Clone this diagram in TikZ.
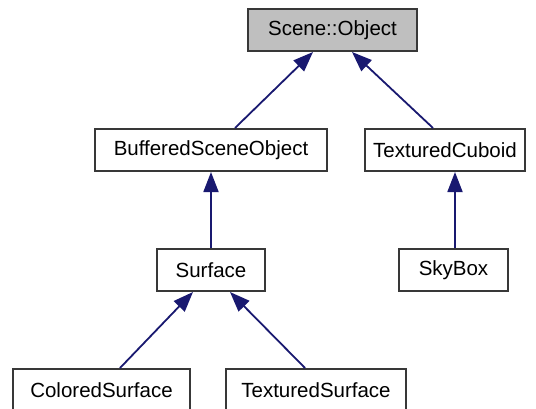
\documentclass[tikz,border=0pt]{standalone}
\usepackage{fontspec}
\setmainfont{Liberation Sans}
\usetikzlibrary{arrows.meta}
\definecolor{boxgray}{HTML}{383838}
\definecolor{rootfill}{HTML}{BFBFBF}
\definecolor{edgeblue}{HTML}{191970}
\tikzset{
  cls/.style={draw=boxgray, line width=2pt, fill=white, minimum height=42pt,
    inner sep=0pt, font=\fontsize{20.5}{24}\selectfont},
  inh/.style={draw=edgeblue, line width=1.8pt,
    -{Triangle[length=20pt,width=15pt]}}
}
\begin{document}
\begin{tikzpicture}[x=1pt,y=-1pt]
  \useasboundingbox (0,0) rectangle (536,408);
  \clip (0,0) rectangle (536,408);
  % class boxes
  \node[cls, fill=rootfill, minimum width=169pt] (obj)  at (332.5,30)  {Scene::Object};
  \node[cls, minimum width=232pt]                (bso)  at (211,150)   {BufferedSceneObject};
  \node[cls, minimum width=160pt]                (cub)  at (445,150)   {TexturedCuboid};
  \node[cls, minimum width=108pt]                (surf) at (211,270)   {Surface};
  \node[cls, minimum width=109pt]                (sky)  at (453.5,270) {SkyBox};
  \node[cls, minimum width=177pt]                (col)  at (101.5,390) {ColoredSurface};
  \node[cls, minimum width=180pt]                (tsf)  at (316,390)   {TexturedSurface};
  % inheritance edges
  \draw[inh] ([xshift=24pt]bso.north) -- ([xshift=-19.5pt]obj.south);
  \draw[inh] ([xshift=-12pt]cub.north) -- ([xshift=19.5pt]obj.south);
  \draw[inh] (surf.north) -- (bso.south);
  \draw[inh] ([xshift=1.5pt]sky.north) -- ([xshift=1.5pt]sky.north |- cub.south);
  \draw[inh] ([xshift=18.5pt]col.north) -- ([xshift=-18pt]surf.south);
  \draw[inh] ([xshift=-11pt]tsf.north) -- ([xshift=19pt]surf.south);
\end{tikzpicture}
\end{document}
